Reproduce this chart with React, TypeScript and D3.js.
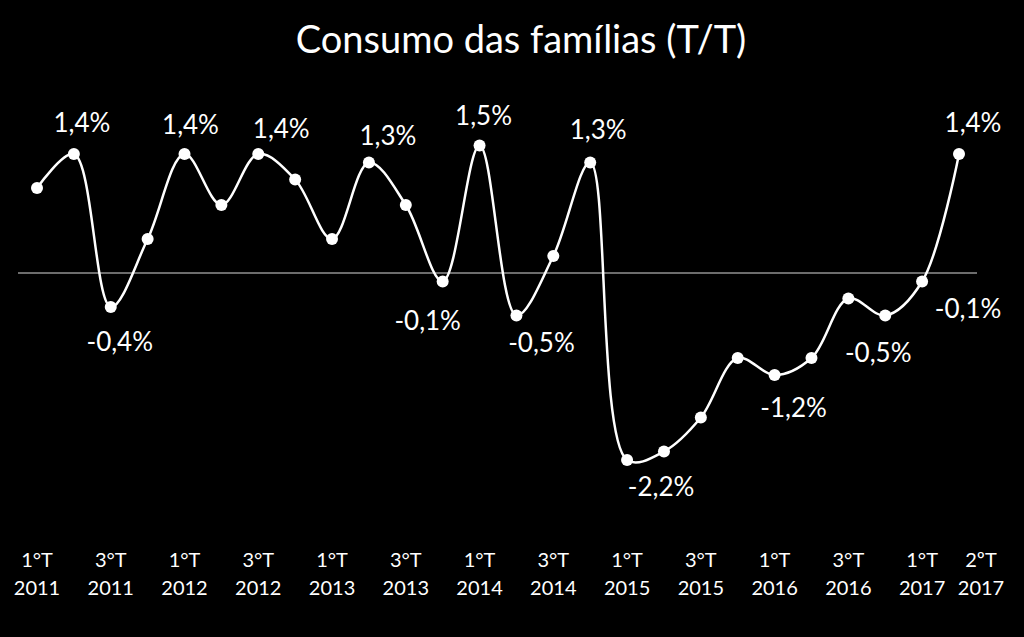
import React, { useRef, useEffect } from 'react';
import * as d3 from 'd3';

// trimestres de 1°T 2011 a 2°T 2017
const quarters = [
  '1T2011', '2T2011', '3T2011', '4T2011',
  '1T2012', '2T2012', '3T2012', '4T2012',
  '1T2013', '2T2013', '3T2013', '4T2013',
  '1T2014', '2T2014', '3T2014', '4T2014',
  '1T2015', '2T2015', '3T2015', '4T2015',
  '1T2016', '2T2016', '3T2016', '4T2016',
  '1T2017', '2T2017',
];

// variação % T/T
const values = [
  1.0, 1.4, -0.4, 0.4,
  1.4, 0.8, 1.4, 1.1,
  0.4, 1.3, 0.8, -0.1,
  1.5, -0.5, 0.2, 1.3,
  -2.2, -2.1, -1.7, -1.0,
  -1.2, -1.0, -0.3, -0.5,
  -0.1, 1.4,
];

// rótulos do eixo x (índice do trimestre, linha 1, linha 2)
const tickLabels: [number, string, string][] = [
  [0, '1°T', '2011'], [2, '3°T', '2011'],
  [4, '1°T', '2012'], [6, '3°T', '2012'],
  [8, '1°T', '2013'], [10, '3°T', '2013'],
  [12, '1°T', '2014'], [14, '3°T', '2014'],
  [16, '1°T', '2015'], [18, '3°T', '2015'],
  [20, '1°T', '2016'], [22, '3°T', '2016'],
  [24, '1°T', '2017'], [25, '2ºT', '2017'],
];

// quais pontos levam rótulo de dado
const labelled = [1, 2, 4, 6, 9, 11, 12, 13, 15, 16, 20, 23, 24, 25];

// deslocamento manual dos rótulos (como no original)
const labelOffsets: Record<number, [number, number]> = {
  1: [8, -22], 2: [9, 44], 4: [6, -20], 6: [23, -16], 9: [19, -18],
  11: [-15, 48], 12: [4, -21], 13: [25, 36], 15: [8, -24], 16: [34, 36],
  20: [19, 42], 23: [-7, 46], 24: [46, 36], 25: [14, -22],
};

const width = 1024;
const height = 637;
const font = 'Lato, "Open Sans", sans-serif';

const fmt = (v: number) => v.toFixed(1).replace('.', ',') + '%';

export default function App() {
  const svgRef = useRef<SVGSVGElement>(null);

  useEffect(() => {
    if (!svgRef.current) return;
    const svg = d3.select(svgRef.current);
    svg.selectAll('*').remove();

    svg.append('rect').attr('width', width).attr('height', height).attr('fill', '#000');

    const x = d3.scaleLinear().domain([0, quarters.length - 1]).range([37, 959]);
    const y = d3.scaleLinear().domain([-3, 2]).range([528, 103]);

    // título
    svg.append('text')
      .attr('x', 521)
      .attr('y', 53)
      .attr('text-anchor', 'middle')
      .style('font-family', font)
      .style('font-size', '38px')
      .attr('fill', '#fff')
      .text('Consumo das famílias (T/T)');

    // linha do zero
    svg.append('line')
      .attr('x1', 18)
      .attr('x2', 977)
      .attr('y1', y(0))
      .attr('y2', y(0))
      .attr('stroke', '#d9d9d9')
      .attr('stroke-width', 1);

    const line = d3.line<number>()
      .x((_, i) => x(i))
      .y((d) => y(d))
      .curve(d3.curveCatmullRom.alpha(0.5));

    svg.append('path')
      .datum(values)
      .attr('d', line)
      .attr('fill', 'none')
      .attr('stroke', '#fff')
      .attr('stroke-width', 2.5);

    svg.selectAll('.pt')
      .data(values)
      .enter()
      .append('circle')
      .attr('class', 'pt')
      .attr('cx', (_, i) => x(i))
      .attr('cy', (d) => y(d))
      .attr('r', 6)
      .attr('fill', '#fff');

    // rótulos de dados
    svg.selectAll('.lbl')
      .data(labelled)
      .enter()
      .append('text')
      .attr('class', 'lbl')
      .attr('x', (i) => x(i) + labelOffsets[i][0])
      .attr('y', (i) => y(values[i]) + labelOffsets[i][1])
      .attr('text-anchor', 'middle')
      .style('font-family', font)
      .style('font-size', '26px')
      .attr('fill', '#fff')
      .text((i) => fmt(values[i]));

    // eixo x
    const ticks = svg.selectAll('.tick-lbl')
      .data(tickLabels)
      .enter()
      .append('text')
      .attr('class', 'tick-lbl')
      .attr('x', (d) => x(d[0]) + (d[0] === quarters.length - 1 ? 22 : 0))
      .attr('text-anchor', 'middle')
      .style('font-family', font)
      .style('font-size', '20px')
      .attr('fill', '#fff');
    ticks.append('tspan').attr('y', 567).text((d) => d[1]);
    ticks.append('tspan')
      .attr('x', (d) => x(d[0]) + (d[0] === quarters.length - 1 ? 22 : 0))
      .attr('y', 595)
      .text((d) => d[2]);
  }, []);

  return (
    <div style={{ position: 'absolute', left: 0, top: 0, background: '#000' }}>
      <svg ref={svgRef} width={width} height={height} style={{ display: 'block' }} />
    </div>
  );
}
